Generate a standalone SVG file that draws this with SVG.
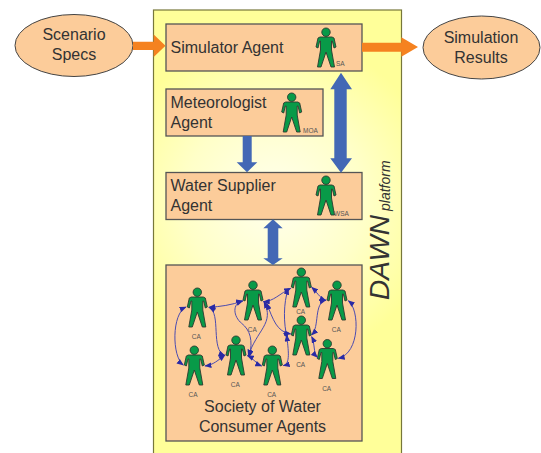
<svg xmlns="http://www.w3.org/2000/svg" width="541" height="453" viewBox="0 0 541 453">
<style>
text{font-family:"Liberation Sans",Arial,sans-serif;fill:#333}
.t{font-size:16px}
.m{text-anchor:middle}
.box{fill:#fccc9a;stroke:#555;stroke-width:1.3}
.ell{fill:#fccc9a;stroke:#444;stroke-width:1}
.fig{fill:#089a48;stroke:#2c3a30;stroke-width:.9;stroke-linejoin:round}
.ca{font-size:6.5px;fill:#555;text-anchor:middle}
.tag{font-size:6.5px;fill:#555}
.org{fill:#f58220}
.blu{fill:#4368b5}
.cv{fill:none;stroke:#4a4ab0;stroke-width:3;marker-start:url(#ah);marker-end:url(#ah)}
</style>
<defs>
<radialGradient id="pg" gradientUnits="userSpaceOnUse" cx="275" cy="200" r="165"><stop offset="0" stop-color="#ffffee"/><stop offset=".55" stop-color="#ffffc8"/><stop offset="1" stop-color="#ffff99"/></radialGradient>
<marker id="ah" viewBox="0 0 10 8" refX="9" refY="4" markerWidth="22" markerHeight="17" markerUnits="userSpaceOnUse" orient="auto-start-reverse"><path d="M0,0L10,4L0,8Z" fill="#2a2aa5"/></marker>
<g id="man"><circle cx="0" cy="4.2" r="4.2" class="fig"/><path class="fig" d="M-6,9L6,9L8,10L10,19L8,20L6.3,13L5.5,13L5.5,22L8.5,39L5,39L0,24L-5,39L-8.5,39L-5.5,22L-5.5,13L-6.3,13L-8,20L-10,19L-8,10Z"/></g>
</defs>
<rect id="platform" x="153.5" y="10" width="248" height="450" fill="url(#pg)" stroke="#77773a" stroke-width="1.2"/>
<g id="platform-label">
<text transform="translate(389,300) rotate(-90)" font-size="28" font-style="italic">DAWN</text>
<text transform="translate(390,211) rotate(-90)" font-size="14" font-style="italic">platform</text>
</g>
<g id="scenario"><ellipse class="ell" cx="74" cy="45.500" rx="59" ry="31"/><text class="t m" x="74" y="40">Scenario</text><text class="t m" x="74" y="60">Specs</text></g>
<g id="results"><ellipse class="ell" cx="481.500" cy="47.500" rx="58.500" ry="31.500"/><text class="t m" x="481" y="43">Simulation</text><text class="t m" x="481" y="63">Results</text></g>
<g id="simulator"><rect class="box" x="166" y="24" width="196" height="47"/><text class="t" x="170.500" y="53">Simulator Agent</text><use href="#man" x="326" y="28"/><text class="tag" x="336" y="65.500">SA</text></g>
<g id="meteorologist"><rect class="box" x="166" y="89" width="157" height="47"/><text class="t" x="170.500" y="108">Meteorologist</text><text class="t" x="170.500" y="128">Agent</text><use href="#man" x="291.700" y="93"/><text class="tag" x="303" y="133">MOA</text></g>
<g id="water"><rect class="box" x="166" y="172.500" width="196" height="47"/><text class="t" x="170.500" y="191">Water Supplier</text><text class="t" x="170.500" y="211">Agent</text><use href="#man" x="326" y="176"/><text class="tag" x="334" y="215.500">WSA</text></g>
<g id="society"><rect class="box" x="166" y="265" width="196" height="176"/>
<use href="#man" x="197.300" y="288"/><use href="#man" x="194.300" y="346"/><use href="#man" x="236" y="336"/><use href="#man" x="253" y="281"/><use href="#man" x="272.300" y="346"/><use href="#man" x="301.300" y="268"/><use href="#man" x="301.300" y="316"/><use href="#man" x="337" y="281"/><use href="#man" x="327.300" y="339.500"/>
<text class="ca" x="196.300" y="339">CA</text><text class="ca" x="193" y="397">CA</text><text class="ca" x="235.300" y="387">CA</text><text class="ca" x="252.300" y="332">CA</text><text class="ca" x="271.700" y="397">CA</text><text class="ca" x="300.700" y="314">CA</text><text class="ca" x="300.700" y="367">CA</text><text class="ca" x="336.300" y="332">CA</text><text class="ca" x="326.700" y="391">CA</text>
<text class="t m" x="262.500" y="412">Society of Water</text><text class="t m" x="262.500" y="432">Consumer Agents</text></g>
<g id="connectors">
<path class="org" d="M133,41.700H153.700V34.500L165.500,45.700L153.700,57V50H133Z"/>
<path class="org" d="M362,42.700H401.300V37.300L418,47L401.300,56.700V51.700H362Z"/>
<path class="blu" d="M341,72.700L352,89.300H346.700V158.300H352L341,172.700L330.300,158.300H334.300V89.300H330.300Z"/>
<path class="blu" d="M242.700,136H251.700V162.300H257.300L247,172.300L236.700,162.300H242.700Z"/>
<path class="blu" d="M273,219.300L282.700,228.300H278.300V258.300H282.700L273,265L263.300,258.300H267.700V228.300H263.300Z"/>
<g transform="translate(160,260) scale(.3333)">
<path class="cv" d="M78,141C35,160 35,290 70,315"/>
<path class="cv" d="M147,142C185,160 150,270 195,287"/>
<path class="cv" d="M147,142C180,140 215,135 248,123"/>
<path class="cv" d="M135,318C160,315 175,300 195,285"/>
<path class="cv" d="M248,123C215,130 220,170 245,190C270,210 280,240 268,290"/>
<path class="cv" d="M262,287C280,295 290,312 305,318"/>
<path class="cv" d="M312,125C345,190 290,210 265,288"/>
<path class="cv" d="M310,125C340,125 360,100 392,85"/>
<path class="cv" d="M320,130C340,180 350,215 392,222"/>
<path class="cv" d="M370,317C392,312 385,270 380,225"/>
<path class="cv" d="M385,85C370,130 370,190 382,235"/>
<path class="cv" d="M455,82C470,95 480,115 498,122"/>
<path class="cv" d="M498,120C460,130 480,200 455,225"/>
<path class="cv" d="M455,230C465,250 460,280 472,292"/>
<path class="cv" d="M565,122C600,150 600,280 535,295"/>
</g>
</g>
</svg>
